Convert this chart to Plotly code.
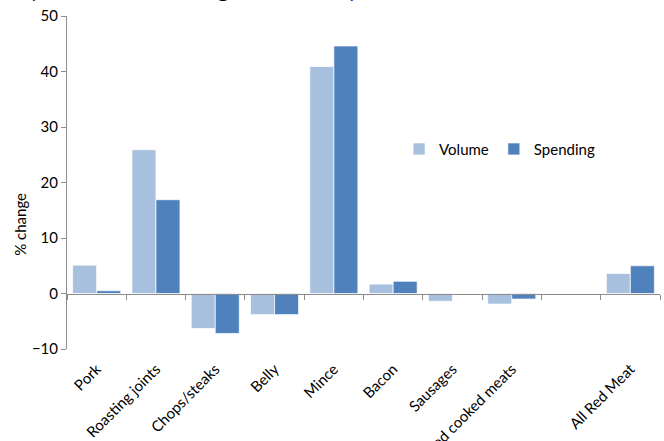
import plotly.graph_objects as go

categories = ["Pork", "Roasting joints", "Chops/steaks", "Belly", "Mince", "Bacon",
              "Sausages", "Processed cooked meats", " ", "All Red Meat"]
volume = [5.1, 25.9, -6.3, -3.8, 40.9, 1.7, -1.4, -1.9, None, 3.6]
spending = [0.5, 16.9, -7.2, -3.8, 44.6, 2.2, 0.0, -1.0, None, 5.0]
y_ticks = [-10, 0, 10, 20, 30, 40, 50]
title_text = "(52 weeks ending Dec 2010)"

FONT = "Lato"
fig = go.Figure()
fig.add_trace(go.Bar(name="Volume", x=categories, y=volume,
                     marker=dict(color="#A7C0DE", line=dict(color="rgba(255,255,255,0.7)", width=1))))
fig.add_trace(go.Bar(name="Spending", x=categories, y=spending,
                     marker=dict(color="#4F81BD", line=dict(color="rgba(255,255,255,0.7)", width=1))))

fig.update_layout(
    width=664, height=441,
    margin=dict(l=67, r=4, t=16, b=92, autoexpand=False),
    paper_bgcolor="white", plot_bgcolor="white",
    barmode="group", bargap=0.19, bargroupgap=0,
    font=dict(family=FONT, size=15, color="#000000"),
    showlegend=True,
    legend=dict(orientation="h", x=0.56, y=0.6, xanchor="left", yanchor="middle",
                font=dict(size=15), bgcolor="rgba(0,0,0,0)", itemwidth=30),
    xaxis=dict(type="category", anchor="free", position=1/6,
               showline=True, linecolor="#8c8c8c", linewidth=1,
               ticks="outside", tickson="boundaries", ticklen=5, tickcolor="#8c8c8c",
               tickangle=-45, ticklabelstandoff=60, showgrid=False, automargin=False),
    yaxis=dict(range=[-10, 50], tickvals=y_ticks, showline=True, linecolor="#8c8c8c",
               linewidth=1, ticks="outside", ticklen=5, tickcolor="#8c8c8c",
               showgrid=False, zeroline=False, automargin=False),
    annotations=[
        dict(text="% change", textangle=-90, xref="paper", yref="paper",
             x=0, y=0.373, xshift=-47, xanchor="center", yanchor="middle",
             showarrow=False, font=dict(size=15)),
        dict(text="<b>" + title_text + "</b>", xref="paper", yref="paper",
             x=0, y=1, xshift=-40, yshift=11, xanchor="left", yanchor="bottom",
             showarrow=False, font=dict(size=26)),
    ],
)

fig.write_html("out.html")
